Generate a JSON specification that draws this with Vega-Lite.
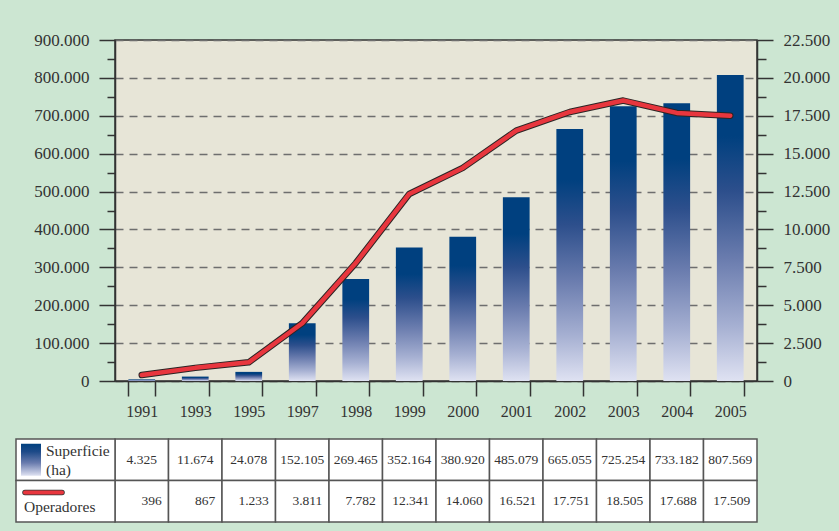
{
  "$schema": "https://vega.github.io/schema/vega-lite/v6.json",
  "background": "#cce6d2",
  "padding": {"left": 15, "top": 30, "right": 9, "bottom": 10},
  "config": {
    "locale": {"number": {"decimal": ",", "thousands": ".", "grouping": [3], "currency": ["", " €"]}},
    "font": "Liberation Serif, DejaVu Serif, serif",
    "view": {"stroke": null},
    "text": {"lineBreak": "\n", "font": "Liberation Serif, DejaVu Serif, serif"},
    "axis": {"labelFont": "Liberation Serif, DejaVu Serif, serif", "labelColor": "#333333", "domainColor": "#333333", "tickColor": "#333333", "domainWidth": 1.5, "tickWidth": 1.5, "title": null}
  },
  "datasets": {
    "main": [
      {"year": "1991", "superficie": 4325, "operadores": 396},
      {"year": "1993", "superficie": 11674, "operadores": 867},
      {"year": "1995", "superficie": 24078, "operadores": 1233},
      {"year": "1997", "superficie": 152105, "operadores": 3811},
      {"year": "1998", "superficie": 269465, "operadores": 7782},
      {"year": "1999", "superficie": 352164, "operadores": 12341},
      {"year": "2000", "superficie": 380920, "operadores": 14060},
      {"year": "2001", "superficie": 485079, "operadores": 16521},
      {"year": "2002", "superficie": 665055, "operadores": 17751},
      {"year": "2003", "superficie": 725254, "operadores": 18505},
      {"year": "2004", "superficie": 733182, "operadores": 17688},
      {"year": "2005", "superficie": 807569, "operadores": 17509}
    ],
    "header": [
      {"key": "superficie", "label": "Superficie\n(ha)"},
      {"key": "operadores", "label": "Operadores"}
    ]
  },
  "spacing": 18,
  "vconcat": [
    {
      "width": 642,
      "height": 341,
      "data": {"name": "main"},
      "view": {"fill": "#e7e5d7", "stroke": "#333333", "strokeWidth": 1.5},
      "encoding": {
        "x": {
          "field": "year", "type": "ordinal",
          "scale": {"paddingInner": 0.5, "paddingOuter": 0.25},
          "axis": {"tickBand": "extent", "tickSize": 15, "labelPadding": 7, "labelFontSize": 16, "labelAngle": 0, "grid": false}
        }
      },
      "layer": [
        {
          "mark": {
            "type": "bar",
            "color": {
              "gradient": "linear", "x1": 0, "y1": 0, "x2": 0, "y2": 1,
              "stops": [
                {"offset": 0, "color": "#00407f"},
                {"offset": 0.2, "color": "#00407f"},
                {"offset": 0.38, "color": "#2d4f8c"},
                {"offset": 0.6, "color": "#6a7cae"},
                {"offset": 0.82, "color": "#a6b0d2"},
                {"offset": 1, "color": "#dfe2f2"}
              ]
            }
          },
          "encoding": {
            "y": {
              "field": "superficie", "type": "quantitative",
              "scale": {"domain": [0, 900000]},
              "axis": {
                "orient": "left",
                "values": [0, 100000, 200000, 300000, 400000, 500000, 600000, 700000, 800000, 900000],
                "format": ",d", "tickSize": 16, "labelPadding": 10, "labelFontSize": 17,
                "grid": true, "gridDash": [8, 6], "gridColor": "#6e6e6e", "gridWidth": 1.5
              }
            }
          }
        },
        {
          "mark": {"type": "point", "opacity": 0},
          "encoding": {
            "y": {
              "field": "superficie", "type": "quantitative",
              "scale": {"domain": [0, 900000]},
              "axis": {
                "orient": "left",
                "values": [50000, 150000, 250000, 350000, 450000, 550000, 650000, 750000, 850000],
                "tickSize": 8, "labels": false, "domain": false, "grid": false
              }
            }
          }
        },
        {
          "mark": {"type": "line", "color": "#2b2424", "strokeWidth": 6.5, "strokeCap": "round", "strokeJoin": "round"},
          "encoding": {
            "y": {
              "field": "operadores", "type": "quantitative",
              "scale": {"domain": [0, 22500]},
              "axis": {
                "orient": "right",
                "values": [0, 2500, 5000, 7500, 10000, 12500, 15000, 17500, 20000, 22500],
                "format": ",d", "tickSize": 16, "labelPadding": 10, "labelFontSize": 17, "grid": false
              }
            }
          }
        },
        {
          "mark": {"type": "line", "color": "#e8363e", "strokeWidth": 4.5, "strokeCap": "round", "strokeJoin": "round"},
          "encoding": {
            "y": {"field": "operadores", "type": "quantitative", "scale": {"domain": [0, 22500]}, "axis": null}
          }
        },
        {
          "mark": {"type": "point", "opacity": 0},
          "encoding": {
            "y": {
              "field": "operadores", "type": "quantitative",
              "scale": {"domain": [0, 22500]},
              "axis": {
                "orient": "right",
                "values": [1250, 3750, 6250, 8750, 11250, 13750, 16250, 18750, 21250],
                "tickSize": 9, "labels": false, "domain": false, "grid": false
              }
            }
          }
        }
      ],
      "resolve": {"scale": {"y": "independent"}}
    },
    {
      "width": 642,
      "height": 83,
      "layer": [
        {
          "data": {"name": "main"},
          "transform": [{"fold": ["superficie", "operadores"], "as": ["key", "value"]}],
          "encoding": {
            "x": {"field": "year", "type": "ordinal", "scale": {"paddingInner": 0, "paddingOuter": 0}, "axis": null},
            "y": {"field": "key", "type": "nominal", "scale": {"domain": ["superficie", "operadores"]}, "axis": null}
          },
          "layer": [
            {"mark": {"type": "rect", "fill": "white", "stroke": "#555555", "strokeWidth": 1.5}},
            {
              "transform": [{"filter": "datum.key === 'superficie'"}],
              "mark": {"type": "text", "align": "center", "baseline": "middle", "fontSize": 13.5, "color": "#333333"},
              "encoding": {"text": {"field": "value", "type": "quantitative", "format": ",d"}}
            },
            {
              "transform": [{"filter": "datum.key === 'operadores'"}],
              "mark": {"type": "text", "align": "right", "baseline": "middle", "dx": 20, "fontSize": 13.5, "color": "#333333"},
              "encoding": {"text": {"field": "value", "type": "quantitative", "format": ",d"}}
            }
          ]
        },
        {
          "data": {"name": "header"},
          "encoding": {
            "y": {"field": "key", "type": "nominal", "scale": {"domain": ["superficie", "operadores"]}, "axis": null}
          },
          "layer": [
            {
              "mark": {"type": "rect", "fill": "white", "stroke": "#555555", "strokeWidth": 1.5},
              "encoding": {
                "x": {"datum": 0, "type": "quantitative", "scale": {"domain": [0, 99], "range": [-99, 0]}, "axis": null},
                "x2": {"datum": 99}
              }
            },
            {
              "transform": [{"filter": "datum.key === 'superficie'"}],
              "mark": {
                "type": "bar", "height": 32,
                "color": {
                  "gradient": "linear", "x1": 0, "y1": 0, "x2": 0, "y2": 1,
                  "stops": [
                    {"offset": 0, "color": "#00407f"},
                    {"offset": 0.25, "color": "#1d4a88"},
                    {"offset": 0.6, "color": "#6a7cae"},
                    {"offset": 1, "color": "#dfe2f2"}
                  ]
                }
              },
              "encoding": {
                "x": {"datum": 5, "type": "quantitative", "scale": {"domain": [0, 99], "range": [-99, 0]}, "axis": null},
                "x2": {"datum": 25}
              }
            },
            {
              "transform": [{"filter": "datum.key === 'operadores'"}],
              "mark": {"type": "rule", "color": "#333333", "strokeWidth": 5.5, "strokeCap": "round"},
              "encoding": {
                "x": {"datum": 9, "type": "quantitative", "scale": {"domain": [0, 99], "range": [-99, 0]}, "axis": null},
                "x2": {"datum": 46},
                "y": {"field": "key", "type": "nominal", "bandPosition": 0.29, "scale": {"domain": ["superficie", "operadores"]}, "axis": null}
              }
            },
            {
              "transform": [{"filter": "datum.key === 'operadores'"}],
              "mark": {"type": "rule", "color": "#e8363e", "strokeWidth": 4, "strokeCap": "round"},
              "encoding": {
                "x": {"datum": 9, "type": "quantitative", "scale": {"domain": [0, 99], "range": [-99, 0]}, "axis": null},
                "x2": {"datum": 46},
                "y": {"field": "key", "type": "nominal", "bandPosition": 0.29, "scale": {"domain": ["superficie", "operadores"]}, "axis": null}
              }
            },
            {
              "transform": [{"filter": "datum.key === 'superficie'"}],
              "mark": {"type": "text", "align": "left", "baseline": "middle", "dy": -9, "fontSize": 15.5, "lineHeight": 19, "color": "#333333"},
              "encoding": {
                "x": {"datum": 30, "type": "quantitative", "scale": {"domain": [0, 99], "range": [-99, 0]}, "axis": null},
                "text": {"field": "label"}
              }
            },
            {
              "transform": [{"filter": "datum.key === 'operadores'"}],
              "mark": {"type": "text", "align": "left", "baseline": "middle", "fontSize": 15.5, "color": "#333333"},
              "encoding": {
                "x": {"datum": 8, "type": "quantitative", "scale": {"domain": [0, 99], "range": [-99, 0]}, "axis": null},
                "y": {"field": "key", "type": "nominal", "bandPosition": 0.65, "scale": {"domain": ["superficie", "operadores"]}, "axis": null},
                "text": {"field": "label"}
              }
            }
          ]
        }
      ],
      "resolve": {"scale": {"x": "independent"}}
    }
  ]
}
